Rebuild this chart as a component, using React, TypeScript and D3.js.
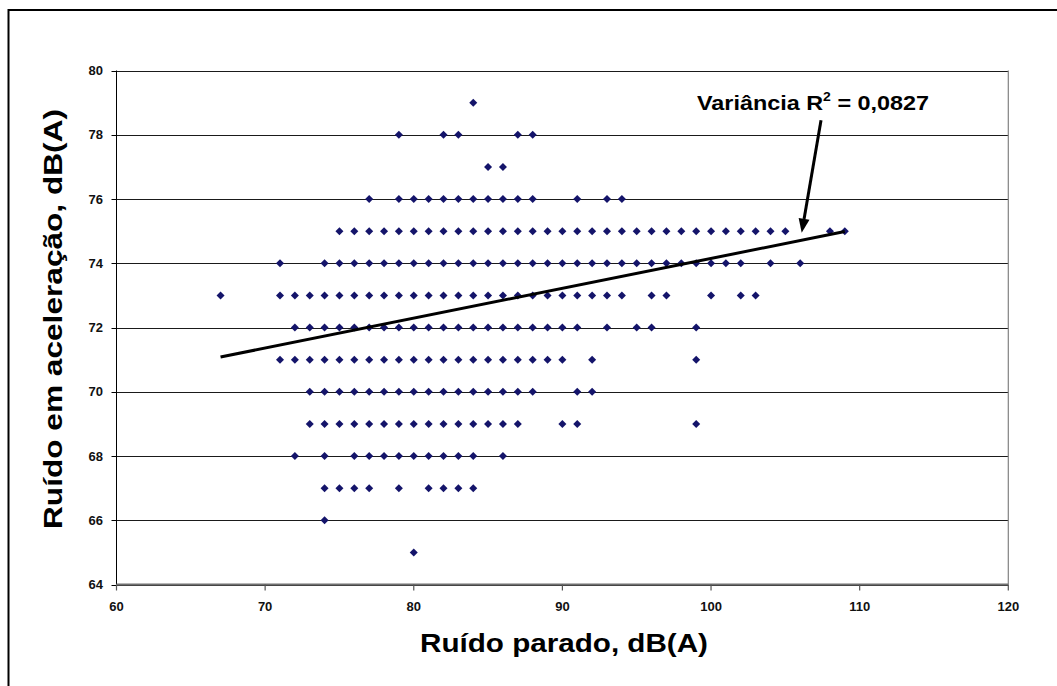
import React from "react";
import * as d3 from "d3";

// Ruído em aceleração (y) versus ruído parado (x), one array of x values per y level
const accel79 = [84];
const accel78 = [79, 82, 83, 87, 88];
const accel77 = [85, 86];
const accel76 = [77, 79, 80, 81, 82, 83, 84, 85, 86, 87, 88, 91, 93, 94];
const accel75 = [75, 76, 77, 78, 79, 80, 81, 82, 83, 84, 85, 86, 87, 88, 89, 90, 91, 92, 93, 94, 95, 96, 97, 98, 99, 100, 101, 102, 103, 104, 105, 108, 109];
const accel74 = [71, 74, 75, 76, 77, 78, 79, 80, 81, 82, 83, 84, 85, 86, 87, 88, 89, 90, 91, 92, 93, 94, 95, 96, 97, 98, 99, 100, 101, 102, 104, 106];
const accel73 = [67, 71, 72, 73, 74, 75, 76, 77, 78, 79, 80, 81, 82, 83, 84, 85, 86, 87, 88, 89, 90, 91, 92, 93, 94, 96, 97, 100, 102, 103];
const accel72 = [72, 73, 74, 75, 76, 77, 78, 79, 80, 81, 82, 83, 84, 85, 86, 87, 88, 89, 90, 91, 93, 95, 96, 99];
const accel71 = [71, 72, 73, 74, 75, 76, 77, 78, 79, 80, 81, 82, 83, 84, 85, 86, 87, 88, 89, 90, 92, 99];
const accel70 = [73, 74, 75, 76, 77, 78, 79, 80, 81, 82, 83, 84, 85, 86, 87, 88, 91, 92];
const accel69 = [73, 74, 75, 76, 77, 78, 79, 80, 81, 82, 83, 84, 85, 86, 87, 90, 91, 99];
const accel68 = [72, 74, 76, 77, 78, 79, 80, 81, 82, 83, 84, 86];
const accel67 = [74, 75, 76, 77, 79, 81, 82, 83, 84];
const accel66 = [74];
const accel65 = [80];

const accelLevels = [79, 78, 77, 76, 75, 74, 73, 72, 71, 70, 69, 68, 67, 66, 65];
const parkedByLevel = [
  accel79, accel78, accel77, accel76, accel75, accel74, accel73, accel72,
  accel71, accel70, accel69, accel68, accel67, accel66, accel65,
];

const xTicks = [60, 70, 80, 90, 100, 110, 120];
const yTicks = [64, 66, 68, 70, 72, 74, 76, 78, 80];

// Linear trend line: y = slope * x + intercept, drawn over the data range
const trendSlope = 0.093;
const trendIntercept = 64.85;
const trendRange = [67, 109];

// Annotation arrow (data coordinates) and its label
const arrowFrom = [107.4, 78.45];
const arrowTo = [106.1, 74.95];
const annotationText = "Variância R";
const annotationSup = "2";
const annotationTail = " = 0,0827";

const W = 1057;
const H = 686;
const plot = { left: 116.5, right: 1008.3, top: 70.5, bottom: 584.5 };

export default function App() {
  const x = d3.scaleLinear().domain([60, 120]).range([plot.left, plot.right]);
  const y = d3.scaleLinear().domain([64, 80]).range([plot.bottom, plot.top]);

  const points = accelLevels.flatMap((lv, i) =>
    parkedByLevel[i].map((p) => ({ x: p, y: lv }))
  );

  const r = 4;
  const diamond = (cx: number, cy: number) =>
    `M${cx},${cy - r}L${cx + r},${cy}L${cx},${cy + r}L${cx - r},${cy}Z`;

  const trendLine = d3
    .line<number>()
    .x((d) => x(d))
    .y((d) => y(trendSlope * d + trendIntercept));

  const ax1 = x(arrowFrom[0]);
  const ay1 = y(arrowFrom[1]);
  const ax2 = x(arrowTo[0]);
  const ay2 = y(arrowTo[1]);
  const ang = Math.atan2(ay2 - ay1, ax2 - ax1);
  const headLen = 14;
  const headW = 5.5;
  const bx = ax2 - headLen * Math.cos(ang);
  const by = ay2 - headLen * Math.sin(ang);
  const px = -Math.sin(ang) * headW;
  const py = Math.cos(ang) * headW;

  const font = "Arial, 'Liberation Sans', Helvetica, sans-serif";

  return (
    <svg
      width={W}
      height={H}
      style={{ position: "absolute", left: 0, top: 0, background: "#fff" }}
      fontFamily={font}
    >
      <rect x={0} y={0} width={W} height={H} fill="#fff" />
      {/* outer chart frame */}
      <rect x={8.5} y={10} width={W + 20} height={H + 20} fill="none" stroke="#000" strokeWidth={2} />

      {/* horizontal gridlines */}
      {yTicks.map((t) => (
        <line key={"g" + t} x1={plot.left} x2={plot.right} y1={Math.round(y(t)) + 0.5} y2={Math.round(y(t)) + 0.5} stroke="#1a1a1a" strokeWidth={1} />
      ))}
      {/* plot area border */}
      <line x1={plot.right} x2={plot.right} y1={plot.top} y2={plot.bottom} stroke="#808080" strokeWidth={1.2} />

      {/* y axis */}
      <line x1={plot.left} x2={plot.left} y1={plot.top} y2={plot.bottom} stroke="#000" strokeWidth={1} />
      {yTicks.map((t) => (
        <g key={"yt" + t}>
          <line x1={plot.left - 5} x2={plot.left} y1={Math.round(y(t)) + 0.5} y2={Math.round(y(t)) + 0.5} stroke="#000" />
          <text x={103} y={y(t)} dy="0.35em" textAnchor="end" fontSize={13} fontWeight="bold" fill="#111">
            {t}
          </text>
        </g>
      ))}

      {/* x axis */}
      <line x1={plot.left} x2={plot.right} y1={plot.bottom} y2={plot.bottom} stroke="#707070" strokeWidth={2} />
      {xTicks.map((t) => (
        <g key={"xt" + t}>
          <line x1={x(t)} x2={x(t)} y1={plot.bottom} y2={plot.bottom + 6} stroke="#555" strokeWidth={1.2} />
          <text x={x(t)} y={611} textAnchor="middle" fontSize={13} fontWeight="bold" fill="#111">
            {t}
          </text>
        </g>
      ))}

      {/* scatter points */}
      {points.map((d, i) => (
        <path key={i} d={diamond(x(d.x), y(d.y))} fill="#14146a" />
      ))}

      {/* trend line */}
      <path d={trendLine(trendRange) ?? ""} fill="none" stroke="#000" strokeWidth={3} />

      {/* annotation arrow */}
      <line x1={ax1} y1={ay1} x2={bx} y2={by} stroke="#000" strokeWidth={3} />
      <path d={`M${ax2},${ay2}L${bx + px},${by + py}L${bx - px},${by - py}Z`} fill="#000" />
      <text transform="translate(697, 110) scale(1.17, 1)" fontSize={20} fontWeight="bold" fill="#000">
        {annotationText}
        <tspan fontSize={12} dy={-9}>{annotationSup}</tspan>
        <tspan dy={9}>{annotationTail}</tspan>
      </text>

      {/* axis titles */}
      <text
        x={564}
        y={652}
        textAnchor="middle"
        fontSize={26}
        fontWeight="bold"
        fill="#000"
        textLength={288}
        lengthAdjust="spacingAndGlyphs"
      >
        Ruído parado, dB(A)
      </text>
      <text
        transform={`translate(62, 319) rotate(-90)`}
        textAnchor="middle"
        fontSize={26}
        fontWeight="bold"
        fill="#000"
        textLength={420}
        lengthAdjust="spacingAndGlyphs"
      >
        Ruído em aceleração, dB(A)
      </text>
    </svg>
  );
}
